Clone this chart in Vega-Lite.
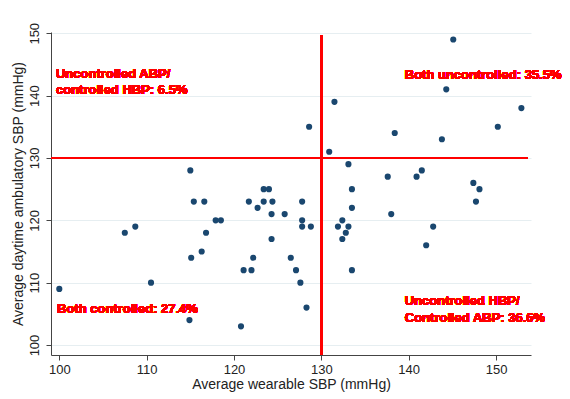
{
  "$schema": "https://vega.github.io/schema/vega-lite/v6.json",
  "width": 480,
  "height": 323,
  "autosize": {"type": "none"},
  "padding": {"left": 51, "top": 32, "right": 39, "bottom": 44},
  "background": "white",
  "config": {"view": {"stroke": null}, "font": "Liberation Sans"},
  "data": {"values": [
    {"wearable": 100.0, "ambulatory": 109},
    {"wearable": 107.5, "ambulatory": 118},
    {"wearable": 108.7, "ambulatory": 119},
    {"wearable": 110.5, "ambulatory": 110},
    {"wearable": 114.9, "ambulatory": 104},
    {"wearable": 115.1, "ambulatory": 114},
    {"wearable": 116.3, "ambulatory": 115},
    {"wearable": 115.4, "ambulatory": 123},
    {"wearable": 115.0, "ambulatory": 128},
    {"wearable": 116.6, "ambulatory": 123},
    {"wearable": 116.8, "ambulatory": 118},
    {"wearable": 117.9, "ambulatory": 120},
    {"wearable": 118.5, "ambulatory": 120},
    {"wearable": 120.8, "ambulatory": 103},
    {"wearable": 121.1, "ambulatory": 112},
    {"wearable": 122.0, "ambulatory": 112},
    {"wearable": 122.2, "ambulatory": 114},
    {"wearable": 121.7, "ambulatory": 123},
    {"wearable": 122.7, "ambulatory": 122},
    {"wearable": 123.4, "ambulatory": 125},
    {"wearable": 124.0, "ambulatory": 125},
    {"wearable": 123.4, "ambulatory": 123},
    {"wearable": 124.4, "ambulatory": 123},
    {"wearable": 124.3, "ambulatory": 121},
    {"wearable": 124.3, "ambulatory": 117},
    {"wearable": 125.8, "ambulatory": 121},
    {"wearable": 126.5, "ambulatory": 114},
    {"wearable": 127.1, "ambulatory": 112},
    {"wearable": 127.6, "ambulatory": 110},
    {"wearable": 128.3, "ambulatory": 106},
    {"wearable": 127.8, "ambulatory": 123},
    {"wearable": 127.8, "ambulatory": 120},
    {"wearable": 127.8, "ambulatory": 119},
    {"wearable": 128.8, "ambulatory": 119},
    {"wearable": 128.6, "ambulatory": 135},
    {"wearable": 130.9, "ambulatory": 131},
    {"wearable": 131.5, "ambulatory": 139},
    {"wearable": 133.1, "ambulatory": 129},
    {"wearable": 133.5, "ambulatory": 125},
    {"wearable": 133.5, "ambulatory": 122},
    {"wearable": 132.4, "ambulatory": 120},
    {"wearable": 131.9, "ambulatory": 119},
    {"wearable": 133.1, "ambulatory": 119},
    {"wearable": 132.8, "ambulatory": 118},
    {"wearable": 132.4, "ambulatory": 117},
    {"wearable": 133.5, "ambulatory": 112},
    {"wearable": 137.6, "ambulatory": 127},
    {"wearable": 138.0, "ambulatory": 121},
    {"wearable": 138.4, "ambulatory": 134},
    {"wearable": 140.9, "ambulatory": 127},
    {"wearable": 141.5, "ambulatory": 128},
    {"wearable": 142.8, "ambulatory": 119},
    {"wearable": 142.0, "ambulatory": 116},
    {"wearable": 143.8, "ambulatory": 133},
    {"wearable": 144.3, "ambulatory": 141},
    {"wearable": 145.1, "ambulatory": 149},
    {"wearable": 147.4, "ambulatory": 126},
    {"wearable": 148.1, "ambulatory": 125},
    {"wearable": 147.7, "ambulatory": 123},
    {"wearable": 150.2, "ambulatory": 135},
    {"wearable": 152.9, "ambulatory": 138}
  ]},
  "layer": [
    {
      "mark": {"type": "rule", "color": "#ff0000", "strokeWidth": 2},
      "encoding": {
        "x": {
          "datum": 130, "type": "quantitative",
          "scale": {"domain": [99.05, 154], "nice": false, "zero": false},
          "axis": {
            "title": "Average wearable SBP (mmHg)",
            "values": [100, 110, 120, 130, 140, 150],
            "grid": false,
            "labelFontSize": 13, "labelColor": "#222", "labelPadding": 3,
            "tickSize": 5, "tickColor": "#444", "domainColor": "#444",
            "titleFontSize": 14, "titleFontWeight": "normal", "titleColor": "#222",
            "titleX": 240, "titleY": 33, "titleBaseline": "alphabetic"
          }
        },
        "y": {
          "datum": 98.4, "type": "quantitative",
          "scale": {"domain": [98.4, 150.2], "nice": false, "zero": false},
          "axis": {
            "title": "Average daytime ambulatory SBP (mmHg)",
            "values": [100, 110, 120, 130, 140, 150],
            "grid": true, "gridColor": "#e6eef1",
            "labelFontSize": 13, "labelColor": "#222", "labelAngle": -90,
            "labelAlign": "center", "labelBaseline": "bottom", "labelPadding": 5,
            "tickSize": 5, "tickColor": "#444", "domainColor": "#444",
            "titleFontSize": 14, "titleFontWeight": "normal", "titleColor": "#222",
            "titleX": -33, "titleY": 161.5, "titleAngle": -90, "titleAlign": "center", "titleBaseline": "middle"
          }
        },
        "y2": {"datum": 149.6}
      }
    },
    {
      "mark": {"type": "rule", "color": "#ff0000", "strokeWidth": 2},
      "encoding": {"y": {"datum": 130}, "x": {"datum": 99.05}, "x2": {"datum": 153.6}}
    },
    {
      "mark": {"type": "text", "text": ["Uncontrolled ABP/", "controlled HBP: 6.5%"], "align": "left", "baseline": "alphabetic", "fontSize": 13, "fontWeight": "bold", "fill": "#ff0000", "lineHeight": 16},
      "encoding": {"x": {"datum": 99.62}, "y": {"datum": 142.9}}
    },
    {
      "mark": {"type": "text", "text": "Both uncontrolled: 35.5%", "align": "left", "baseline": "alphabetic", "fontSize": 13, "fontWeight": "bold", "fill": "#ff0000"},
      "encoding": {"x": {"datum": 139.55}, "y": {"datum": 142.7}}
    },
    {
      "mark": {"type": "text", "text": "Both controlled: 27.4%", "align": "left", "baseline": "alphabetic", "fontSize": 13, "fontWeight": "bold", "fill": "#ff0000"},
      "encoding": {"x": {"datum": 99.74}, "y": {"datum": 105.1}}
    },
    {
      "mark": {"type": "text", "text": ["Uncontrolled HBP/", "Controlled ABP: 36.6%"], "align": "left", "baseline": "alphabetic", "fontSize": 13, "fontWeight": "bold", "fill": "#ff0000", "lineHeight": 17},
      "encoding": {"x": {"datum": 139.55}, "y": {"datum": 106.4}}
    },
    {
      "mark": {"type": "circle", "size": 38, "opacity": 1, "color": "#1a476f"},
      "encoding": {
        "x": {"field": "wearable", "type": "quantitative"},
        "y": {"field": "ambulatory", "type": "quantitative"}
      }
    }
  ]
}
